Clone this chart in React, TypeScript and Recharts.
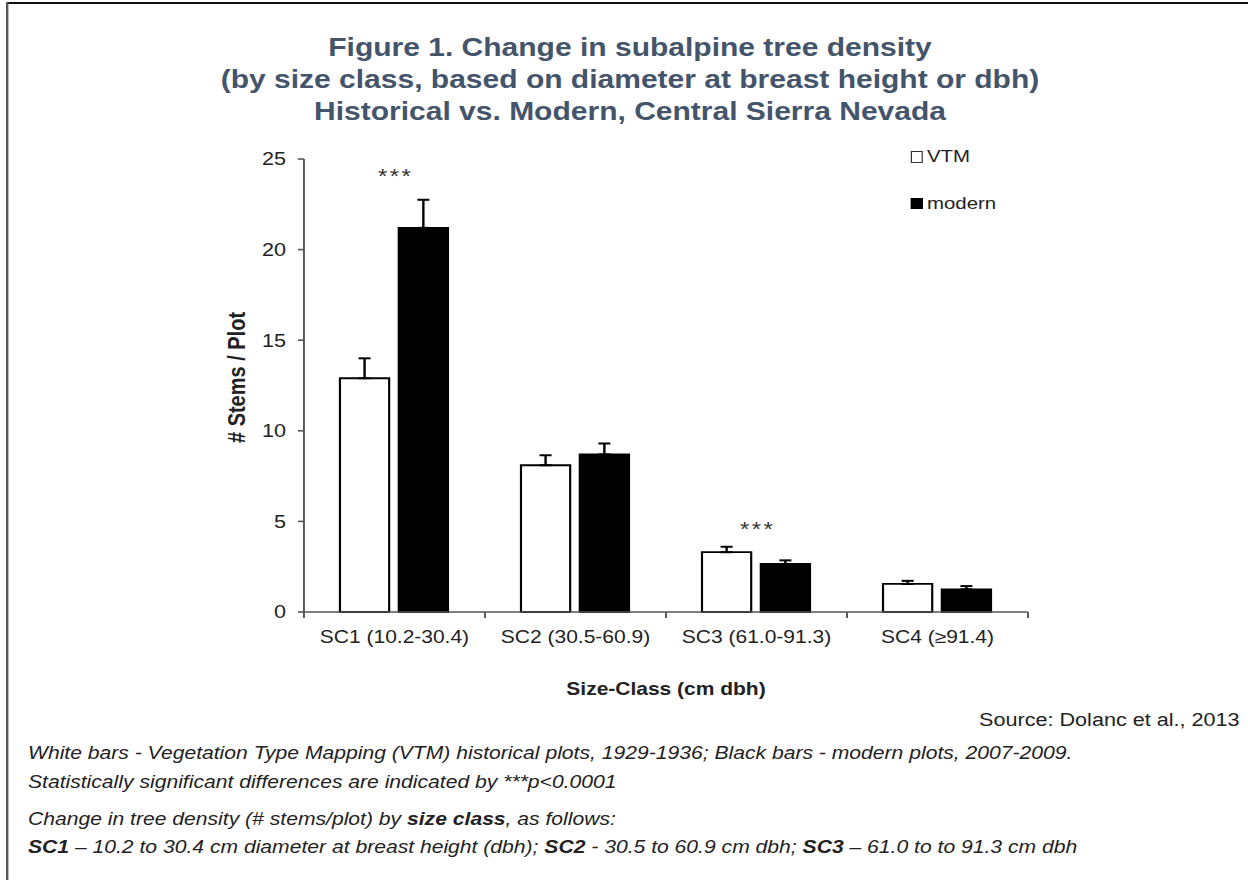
import React from "react";
import {
  ComposedChart,
  Bar,
  ErrorBar,
  Scatter,
  XAxis,
  YAxis,
  Legend,
} from "recharts";

// values
const categories = ["SC1 (10.2-30.4)", "SC2 (30.5-60.9)", "SC3 (61.0-91.3)", "SC4 (≥91.4)"];
const vtm = [12.9, 8.1, 3.3, 1.55];
const vtmErr = [1.1, 0.55, 0.3, 0.17];
const modern = [21.2, 8.7, 2.65, 1.25];
const modernErr = [1.55, 0.6, 0.2, 0.18];
const sigMarks = ["***", "", "***", ""];
const sigLevel = [23.7, null, 4.2, null];
const yTicks = [0, 5, 10, 15, 20, 25];

const series = [
  { key: "vtm", name: "VTM", fill: "#ffffff", stroke: "#333" },
  { key: "modern", name: "modern", fill: "#000000", stroke: "#000" },
];

const rows = categories.map((name, i) => ({
  name,
  vtm: vtm[i],
  vtmErr: [0, vtmErr[i]],
  modern: modern[i],
  modernErr: [0, modernErr[i]],
  sig: sigMarks[i],
  sigLevel: sigLevel[i],
}));

// the source image is stretched horizontally, so the whole figure is drawn narrower and scaled
const SX = 1.2;
const FONT = "Arial, 'Liberation Sans', sans-serif";
const AXIS = "#555";
const TEXT = "#222";

const CHART_W = 740;
const CHART_H = 560;
const MARGIN = { top: 19, right: 33.3, bottom: 0, left: 0 };
const Y_W = 103.3;
const BAND = (CHART_W - MARGIN.left - MARGIN.right - Y_W) / categories.length;

function CategoryTick(props: any) {
  const { x, y, payload, index } = props;
  const half = BAND / 2;
  return (
    <g>
      <line x1={x - half} x2={x - half} y1={y} y2={y + 6} stroke={AXIS} strokeWidth={1.6} />
      {index === categories.length - 1 && (
        <line x1={x + half} x2={x + half} y1={y} y2={y + 6} stroke={AXIS} strokeWidth={1.6} />
      )}
      <text x={x} y={y + 31} textAnchor="middle" fontSize={17.5} fill={TEXT} fontFamily={FONT}>
        {payload.value}
      </text>
    </g>
  );
}

function SigMark(props: any) {
  const { cx, cy, payload } = props;
  if (!payload || !payload.sig) return <g />;
  return (
    <text
      x={cx + 1}
      y={cy}
      textAnchor="middle"
      fontSize={20}
      fill="#333"
      letterSpacing={2}
      fontFamily={FONT}
    >
      {payload.sig}
    </text>
  );
}

function StemsLabel(props: any) {
  const { viewBox } = props;
  const cx = viewBox.x + 47.5;
  const cy = viewBox.y + viewBox.height / 2 - 8;
  return (
    <text
      x={cx}
      y={cy}
      transform={`rotate(-90 ${cx} ${cy})`}
      textAnchor="middle"
      dominantBaseline="central"
      fontSize={20}
      fontWeight="bold"
      fill={TEXT}
      fontFamily={FONT}
    >
      # Stems / Plot
    </text>
  );
}

function LegendBox() {
  return (
    <div style={{ fontFamily: FONT, fontSize: 17, color: TEXT }}>
      {series.map((s, i) => (
        <div
          key={s.key}
          style={{ display: "flex", alignItems: "center", height: 20, marginBottom: i === 0 ? 26.5 : 0 }}
        >
          <span
            style={{
              display: "inline-block",
              width: 7.5,
              height: 9.5,
              background: s.fill,
              border: `1.3px solid ${s.stroke}`,
              marginRight: 4,
            }}
          />
          <span>{s.name}</span>
        </div>
      ))}
    </div>
  );
}

export default function App() {
  return (
    <div
      style={{
        position: "absolute",
        left: 0,
        top: 0,
        width: 1248,
        height: 880,
        overflow: "hidden",
        background: "#fff",
        fontFamily: FONT,
      }}
    >
      <div
        style={{
          position: "absolute",
          left: 0,
          top: 0,
          width: 1248 / SX,
          height: 880,
          transform: `scaleX(${SX})`,
          transformOrigin: "0 0",
        }}
      >
        {/* frame */}
        <div style={{ position: "absolute", left: 5, top: 2, right: 0, height: 2, background: "#111" }} />
        <div style={{ position: "absolute", left: 5, top: 2, width: 1.7, bottom: 0, background: "#555" }} />

        <div
          style={{
            position: "absolute",
            left: 0,
            top: 30.5,
            width: 1050,
            textAlign: "center",
            fontWeight: "bold",
            fontSize: 25,
            lineHeight: "32px",
            color: "#44546a",
          }}
        >
          <div>Figure 1. Change in subalpine tree density</div>
          <div>(by size class, based on diameter at breast height or dbh)</div>
          <div>Historical vs. Modern, Central Sierra Nevada</div>
        </div>

        <div style={{ position: "absolute", left: 150, top: 140, width: CHART_W, height: CHART_H }}>
          <ComposedChart
            width={CHART_W}
            height={CHART_H}
            data={rows}
            margin={MARGIN}
            barSize={41}
            barGap={8}
          >
            <XAxis
              dataKey="name"
              height={88}
              interval={0}
              tickLine={false}
              tickSize={0}
              tickMargin={0}
              axisLine={{ stroke: AXIS, strokeWidth: 1.6 }}
              tick={<CategoryTick />}
              label={{
                value: "Size-Class (cm dbh)",
                position: "insideBottom",
                offset: 4.5,
                fontSize: 17.5,
                fontWeight: "bold",
                fill: TEXT,
                fontFamily: FONT,
              }}
            />
            <YAxis
              width={Y_W}
              domain={[0, 25]}
              ticks={yTicks}
              interval={0}
              tickSize={5}
              tickMargin={10}
              axisLine={{ stroke: AXIS, strokeWidth: 1.6 }}
              tickLine={{ stroke: AXIS, strokeWidth: 1.6 }}
              tick={{ fontSize: 18, fill: TEXT, fontFamily: FONT }}
              label={<StemsLabel />}
            />
            <Legend
              layout="horizontal"
              align="center"
              verticalAlign="middle"
              width={130}
              wrapperStyle={{ left: 609, top: 7 }}
              content={<LegendBox />}
            />
            <Bar dataKey="vtm" name="VTM" fill="#fff" stroke="#000" strokeWidth={1.8} isAnimationActive={false}>
              <ErrorBar dataKey="vtmErr" direction="y" width={5} stroke="#000" strokeWidth={2} isAnimationActive={false} />
            </Bar>
            <Bar dataKey="modern" name="modern" fill="#000" stroke="#000" strokeWidth={1.8} isAnimationActive={false}>
              <ErrorBar dataKey="modernErr" direction="y" width={5} stroke="#000" strokeWidth={2} isAnimationActive={false} />
            </Bar>
            <Scatter dataKey="sigLevel" shape={<SigMark />} legendType="none" isAnimationActive={false} />
          </ComposedChart>
        </div>

        <div
          style={{
            position: "absolute",
            right: 1248 / SX - 1033,
            top: 711,
            fontSize: 18,
            lineHeight: "18px",
            color: TEXT,
            whiteSpace: "nowrap",
          }}
        >
          Source: Dolanc et al., 2013
        </div>

        <div
          style={{
            position: "absolute",
            left: 23.3,
            top: 739,
            fontSize: 17.6,
            lineHeight: "29px",
            fontStyle: "italic",
            color: TEXT,
            whiteSpace: "nowrap",
          }}
        >
          <div>
            White bars - Vegetation Type Mapping (VTM) historical plots, 1929-1936; Black bars - modern plots, 2007-2009.
          </div>
          <div>Statistically significant differences are indicated by ***p&lt;0.0001</div>
        </div>

        <div
          style={{
            position: "absolute",
            left: 23.3,
            top: 806,
            fontSize: 17.6,
            lineHeight: "27.5px",
            fontStyle: "italic",
            color: TEXT,
            whiteSpace: "nowrap",
          }}
        >
          <div>
            Change in tree density (# stems/plot) by <b>size class</b>, as follows:
          </div>
          <div>
            <b>SC1</b> – 10.2 to 30.4 cm diameter at breast height (dbh); <b>SC2</b> - 30.5 to 60.9 cm dbh;{" "}
            <b>SC3</b> – 61.0 to to 91.3 cm dbh
          </div>
        </div>
      </div>
    </div>
  );
}
